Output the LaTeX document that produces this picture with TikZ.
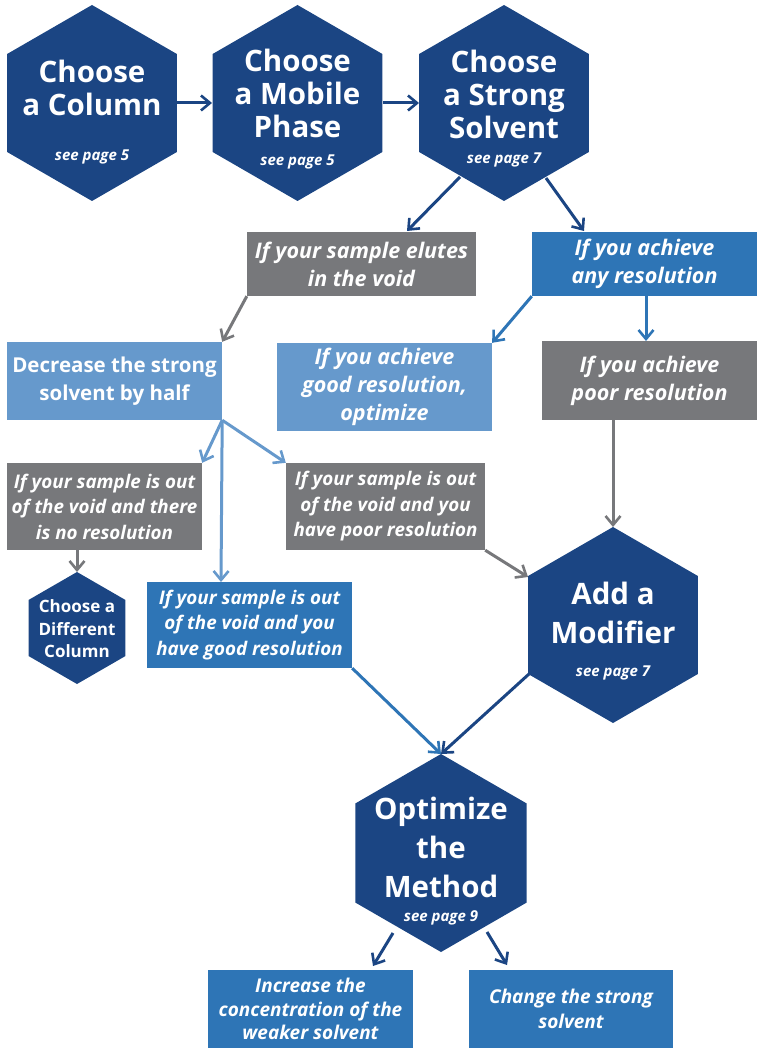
\documentclass[tikz,border=0pt]{standalone}
\usepackage{fontspec}
\setmainfont{Open Sans}
\usetikzlibrary{arrows.meta,calc}
\definecolor{dblue}{RGB}{27,69,131}
\definecolor{mblue}{RGB}{46,117,182}
\definecolor{lblue}{RGB}{102,153,204}
\definecolor{gbox}{RGB}{119,120,123}
\newcommand\hexfill[4]{\fill[#1] (#2,#3) +(0,-#4) -- +({0.866*#4},{-0.5*#4}) -- +({0.866*#4},{0.5*#4}) -- +(0,#4) -- +({-0.866*#4},{0.5*#4}) -- +({-0.866*#4},{-0.5*#4}) -- cycle;}
\tikzset{
  arr/.style={line width=3pt,-{Straight Barb[length=9pt,width=15pt,line width=2.6pt]}},
  hextext/.style={text=white,align=center,font=\bfseries\fontsize{29.5}{33}\selectfont},
  bighextext/.style={text=white,align=center,font=\bfseries\fontsize{29.5}{39}\selectfont},
  pagetext/.style={text=white,font=\bfseries\itshape\fontsize{15}{17}\selectfont},
  boxbase/.style={rectangle,inner sep=0pt,text=white,align=center,font=\bfseries\itshape\fontsize{21.5}{28}\selectfont},
  greybox/.style={boxbase,fill=gbox},
  midbox/.style={boxbase,fill=mblue},
  lightbox/.style={boxbase,fill=lblue},
  outfont/.style={font=\bfseries\itshape\fontsize{18.8}{25.5}\selectfont},
}
\begin{document}
\begin{tikzpicture}[x=1pt,y=-1pt]
\useasboundingbox (0,0) rectangle (757,1048);
% hexagons
\hexfill{dblue}{92}{103}{98}
\hexfill{dblue}{297.5}{103}{98}
\hexfill{dblue}{504}{103}{98}
\hexfill{dblue}{613}{625}{98}
\hexfill{dblue}{441}{853}{99}
\hexfill{dblue}{77}{628}{56}
\node[hextext] (h1) at (92,88) {Choose\\a Column};
\node[pagetext] (h1p) at (92,157) {see page 5};
\node[hextext] (h2) at (297.5,93) {Choose\\a Mobile\\Phase};
\node[pagetext] (h2p) at (297.5,162) {see page 5};
\node[hextext] (h3) at (504,94) {Choose\\a Strong\\Solvent};
\node[pagetext] (h3p) at (504,160) {see page 7};
\node[bighextext] (hm) at (613,613) {Add a\\Modifier};
\node[pagetext] (hmp) at (613,673) {see page 7};
\node[bighextext] (ho) at (441,847) {Optimize\\the\\Method};
\node[pagetext] (hop) at (441,918) {see page 9};
\node[text=white,align=center,font=\bfseries\fontsize{17}{22.5}\selectfont] (hd) at (77,629) {Choose a\\Different\\Column};
% boxes
\node[greybox,minimum width=229pt,minimum height=64pt] (void) at (361.5,264) {If your sample elutes\\in the void};
\node[midbox,minimum width=225pt,minimum height=64pt] (any) at (644.5,264) {If you achieve\\any resolution};
\node[lightbox,font=\bfseries\fontsize{20.5}{27.5}\selectfont,minimum width=215pt,minimum height=78pt] (dec) at (114.5,381) {Decrease the strong\\solvent by half};
\node[lightbox,minimum width=215pt,minimum height=88pt] (good) at (384.5,387) {If you achieve\\good resolution,\\optimize};
\node[greybox,minimum width=215pt,minimum height=79pt] (poor) at (649.5,380.5) {If you achieve\\poor resolution};
\node[greybox,outfont,minimum width=195pt,minimum height=87pt] (none) at (104.5,506.5) {If your sample is out\\of the void and there\\is no resolution};
\node[greybox,outfont,minimum width=199pt,minimum height=87pt] (poorres) at (385.5,506.5) {If your sample is out\\of the void and you\\have poor resolution};
\node[midbox,outfont,minimum width=205pt,minimum height=86pt] (goodres) at (249.5,625) {If your sample is out\\of the void and you\\have good resolution};
\node[midbox,font=\bfseries\itshape\fontsize{19}{23.5}\selectfont,minimum width=205pt,minimum height=78pt] (inc) at (310.5,1009) {Increase the\\concentration of the\\weaker solvent};
\node[midbox,font=\bfseries\itshape\fontsize{19}{25}\selectfont,minimum width=204pt,minimum height=78pt] (chg) at (571,1009) {Change the strong\\solvent};
% connector coordinates
\coordinate (h1e) at (177,103);
\coordinate (h2w) at (212,103);
\coordinate (h2e) at (383,103);
\coordinate (h3w) at (419,103);
\coordinate (h3sw) at (460,177);
\coordinate (h3se) at (546,178);
\coordinate (voidtop) at (407,231);
\coordinate (anytop) at (584,231);
\coordinate (anybot) at (646,296);
\coordinate (poortop) at (646,341);
\coordinate (poorbot) at (613,420);
\coordinate (hmtop) at (613,527);
\coordinate (goodrestop) at (221,582);
\coordinate (nonebot) at (77,550);
\coordinate (hdtop) at (77,572);
\coordinate (hmw) at (528,577);
\coordinate (hmsw) at (529,674);
\coordinate (hotop) at (441,754);
\coordinate (hosw) at (393,933);
\coordinate (inctop) at (373,966);
\coordinate (hose) at (487,932);
\coordinate (chgtop) at (507,965);
% connectors
\draw[arr,dblue] (h1e) -- (h2w);
\draw[arr,dblue] (h2e) -- (h3w);
\draw[arr,dblue] (h3sw) -- (voidtop);
\draw[arr,dblue] (h3se) -- (anytop);
\draw[arr,gbox] (void.south west) -- (dec.north east);
\draw[arr,mblue] (any.south west) -- (good.north east);
\draw[arr,mblue] (anybot) -- (poortop);
\draw[arr,gbox] (poorbot) -- (hmtop);
\draw[arr,lblue] (dec.south east) -- (none.north east);
\draw[arr,lblue] (dec.south east) -- (goodrestop);
\draw[arr,lblue] (dec.south east) -- (poorres.north west);
\draw[arr,gbox] (nonebot) -- (hdtop);
\draw[arr,gbox] (poorres.south east) -- (hmw);
\draw[arr,mblue] (goodres.south east) -- (hotop);
\draw[arr,dblue] (hmsw) -- (hotop);
\draw[arr,dblue] (hosw) -- (inctop);
\draw[arr,dblue] (hose) -- (chgtop);
\end{tikzpicture}
\end{document}
